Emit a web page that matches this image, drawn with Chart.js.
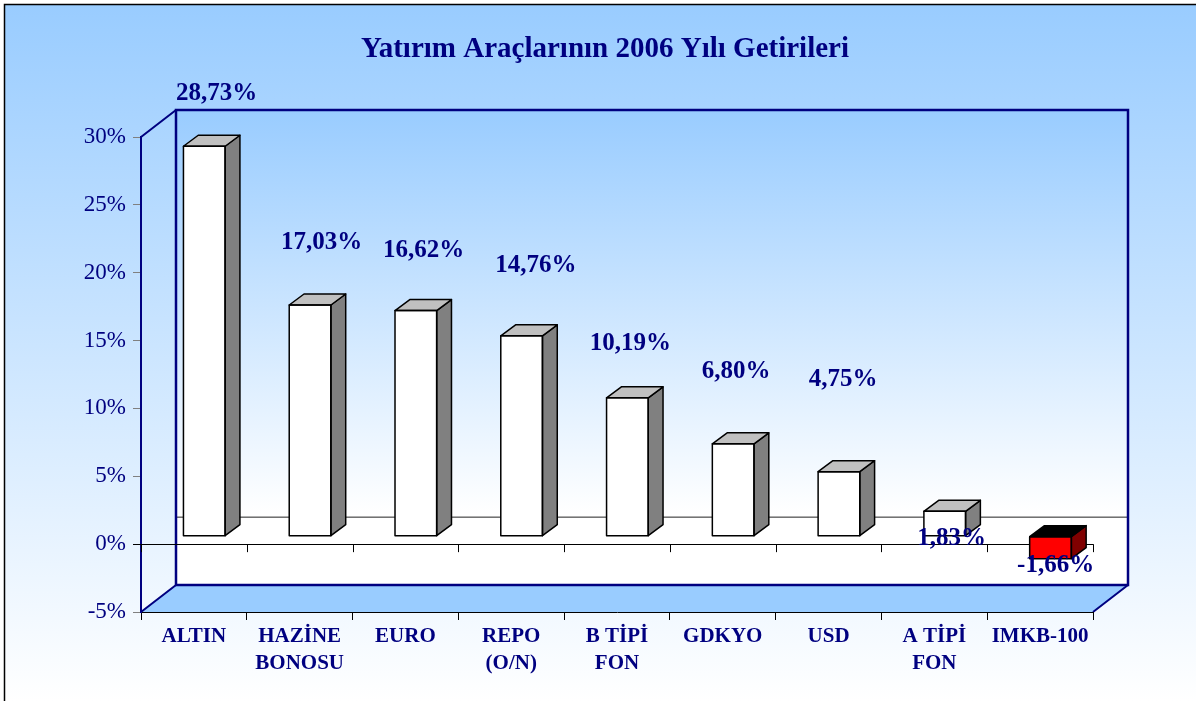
<!DOCTYPE html>
<html><head><meta charset="utf-8">
<script src="https://cdn.jsdelivr.net/npm/chart.js@4.4.0/dist/chart.umd.min.js"></script>
<style>html,body{margin:0;padding:0;background:#fff;overflow:hidden}#wrap{width:1196px;height:701px;position:relative}</style>
</head><body><div id="wrap"><canvas id="c" width="1196" height="701"></canvas></div>
<script>
// ---- data ----
const categories = [['ALTIN'], ['HAZİNE', 'BONOSU'], ['EURO'], ['REPO', '(O/N)'], ['B TİPİ', 'FON'], ['GDKYO'], ['USD'], ['A TİPİ', 'FON'], ['IMKB-100']];
const returns2006 = [28.73, 17.03, 16.62, 14.76, 10.19, 6.80, 4.75, 1.83, -1.66];
const yTickValues = [-5, 0, 5, 10, 15, 20, 25, 30];
const chartTitle = 'Yatırım Araçlarının 2006 Yılı Getirileri';

// ---- styling ----
const frontColors = ['#ffffff', '#ffffff', '#ffffff', '#ffffff', '#ffffff', '#ffffff', '#ffffff', '#ffffff', '#ff0000'];
const topColors = ['#c0c0c0', '#c0c0c0', '#c0c0c0', '#c0c0c0', '#c0c0c0', '#c0c0c0', '#c0c0c0', '#c0c0c0', '#000000'];
const sideColors = ['#808080', '#808080', '#808080', '#808080', '#808080', '#808080', '#808080', '#808080', '#800000'];
// label centre offsets (px) from the bar's value point on the front plane
const labelOffsets = [[22.8, -62.7], [22, -72.3], [18.2, -70.3], [24.7, -80.1], [13.4, -64.5], [13.3, -82.3], [14.6, -102.4], [17.2, 17], [15.5, -3.5]];
const WALL = { x: 35, y: -27 };
const BAR_SHIFT = { x: 10.4, y: -8 };
const BAR_DEPTH = { x: 14.8, y: -11 };
const NAVY = '#000080';
const SERIF = "'Liberation Serif', 'Times New Roman', serif";

const threeD = {
  id: 'threeD',
  beforeDraw(chart) {
    const ctx = chart.ctx, a = chart.chartArea, ys = chart.scales.y;
    const W = chart.width, H = chart.height;
    ctx.save();
    ctx.fillStyle = '#ffffff';
    ctx.fillRect(0, 0, W, H);
    let g = ctx.createLinearGradient(0, 4, 0, H);
    g.addColorStop(0, '#99ccff');
    g.addColorStop(1, '#ffffff');
    ctx.fillStyle = g;
    ctx.fillRect(4, 4, W, H);
    ctx.strokeStyle = '#000000';
    ctx.lineWidth = 1.5;
    ctx.strokeRect(4.5, 4.5, W + 20, H + 20);

    // title
    ctx.fillStyle = NAVY;
    ctx.font = 'bold 29px ' + SERIF;
    ctx.textAlign = 'center';
    ctx.textBaseline = 'alphabetic';
    ctx.fillText(chartTitle, 605, 57);

    // back wall
    const bl = a.left + WALL.x, br = a.right + WALL.x, bt = a.top + WALL.y, bb = a.bottom + WALL.y;
    g = ctx.createLinearGradient(0, bt, 0, bb);
    g.addColorStop(0, '#99ccff');
    g.addColorStop(0.85, '#ffffff');
    g.addColorStop(1, '#ffffff');
    ctx.fillStyle = g;
    ctx.fillRect(bl, bt, br - bl, bb - bt);
    // zero gridline on back wall
    const y0b = ys.getPixelForValue(0) + WALL.y;
    ctx.strokeStyle = '#222222';
    ctx.lineWidth = 1;
    ctx.beginPath();
    ctx.moveTo(bl, y0b); ctx.lineTo(br, y0b);
    ctx.stroke();
    // floor
    ctx.fillStyle = '#99ccff';
    ctx.beginPath();
    ctx.moveTo(a.left, a.bottom);
    ctx.lineTo(bl, bb);
    ctx.lineTo(br, bb);
    ctx.lineTo(a.right, a.bottom);
    ctx.closePath();
    ctx.fill();
    // navy outlines
    ctx.strokeStyle = NAVY;
    ctx.lineWidth = 2.5;
    ctx.strokeRect(bl, bt, br - bl, bb - bt);
    ctx.lineWidth = 2;
    ctx.beginPath();
    ctx.moveTo(a.left, a.top); ctx.lineTo(bl, bt);
    ctx.moveTo(a.left, a.bottom); ctx.lineTo(bl, bb);
    ctx.moveTo(a.right, a.bottom); ctx.lineTo(br, bb);
    ctx.stroke();
    ctx.restore();
  },
  beforeDatasetsDraw(chart) {
    const ctx = chart.ctx, a = chart.chartArea, xs = chart.scales.x, ys = chart.scales.y;
    const y0 = ys.getPixelForValue(0);
    const half = (xs.getPixelForValue(1) - xs.getPixelForValue(0)) / 2;
    ctx.save();
    ctx.strokeStyle = '#000000';
    ctx.lineWidth = 1;
    ctx.beginPath();
    ctx.moveTo(a.left - 8, Math.round(y0) + 0.5);
    ctx.lineTo(a.right, Math.round(y0) + 0.5);
    for (let i = 0; i <= categories.length; i++) {
      const x = Math.round(xs.getPixelForValue(i) - half) + 0.5;
      ctx.moveTo(x, y0);
      ctx.lineTo(x, y0 + 8);
    }
    ctx.stroke();
    ctx.restore();
    ctx.save();
    ctx.translate(BAR_SHIFT.x, BAR_SHIFT.y);
  },
  afterDatasetsDraw(chart) {
    const ctx = chart.ctx;
    const meta = chart.getDatasetMeta(0);
    ctx.lineWidth = 1.5;
    ctx.lineJoin = 'round';
    ctx.strokeStyle = '#000000';
    meta.data.forEach((el, i) => {
      const p = el.getProps(['x', 'y', 'base', 'width'], true);
      const l = p.x - p.width / 2, r = p.x + p.width / 2;
      const t = Math.min(p.y, p.base), b = Math.max(p.y, p.base);
      const dx = BAR_DEPTH.x, dy = BAR_DEPTH.y;
      // side
      ctx.fillStyle = sideColors[i];
      ctx.beginPath();
      ctx.moveTo(r, t); ctx.lineTo(r + dx, t + dy); ctx.lineTo(r + dx, b + dy); ctx.lineTo(r, b); ctx.closePath();
      ctx.fill(); ctx.stroke();
      // top
      ctx.fillStyle = topColors[i];
      ctx.beginPath();
      ctx.moveTo(l, t); ctx.lineTo(l + dx, t + dy); ctx.lineTo(r + dx, t + dy); ctx.lineTo(r, t); ctx.closePath();
      ctx.fill(); ctx.stroke();
      // front outline
      ctx.strokeRect(l, t, r - l, b - t);
    });
    ctx.restore();

    // value labels
    const xs = chart.scales.x, ys = chart.scales.y;
    ctx.save();
    ctx.fillStyle = NAVY;
    ctx.font = 'bold 25px ' + SERIF;
    ctx.textAlign = 'center';
    ctx.textBaseline = 'alphabetic';
    returns2006.forEach((v, i) => {
      const cx = xs.getPixelForValue(i) + labelOffsets[i][0];
      const cy = ys.getPixelForValue(v) + labelOffsets[i][1];
      ctx.fillText(v.toFixed(2).replace('.', ',') + '%', cx, cy + 8.5);
    });
    ctx.restore();
  }
};

new Chart(document.getElementById('c'), {
  type: 'bar',
  data: {
    labels: categories,
    datasets: [{
      data: returns2006,
      backgroundColor: frontColors,
      borderWidth: 0,
      barPercentage: 0.394,
      categoryPercentage: 1
    }]
  },
  options: {
    responsive: false,
    animation: false,
    devicePixelRatio: 1,
    layout: { padding: { left: 0, top: 137, right: 103, bottom: 0 } },
    plugins: { legend: { display: false }, tooltip: { enabled: false }, title: { display: false } },
    scales: {
      x: {
        afterFit(s) { s.height = 89; },
        grid: { offset: true, drawOnChartArea: false, tickLength: 8, color: '#000000', lineWidth: 1 },
        border: { display: true, color: '#000000', width: 1 },
        ticks: { color: NAVY, font: { family: SERIF, size: 21, weight: 'bold', lineHeight: 27 / 21 }, padding: 3, maxRotation: 0, autoSkip: false }
      },
      y: {
        min: -5, max: 30,
        afterFit(s) { s.width = 141; },
        afterBuildTicks(s) { s.ticks = yTickValues.map(v => ({ value: v })); },
        grid: { drawOnChartArea: false, tickLength: 8, color: '#808080', lineWidth: 1 },
        border: { display: true, color: NAVY, width: 2 },
        ticks: { color: NAVY, font: { family: SERIF, size: 23 }, padding: 7, callback: v => v + '%' }
      }
    }
  },
  plugins: [threeD]
});
</script></body></html>
